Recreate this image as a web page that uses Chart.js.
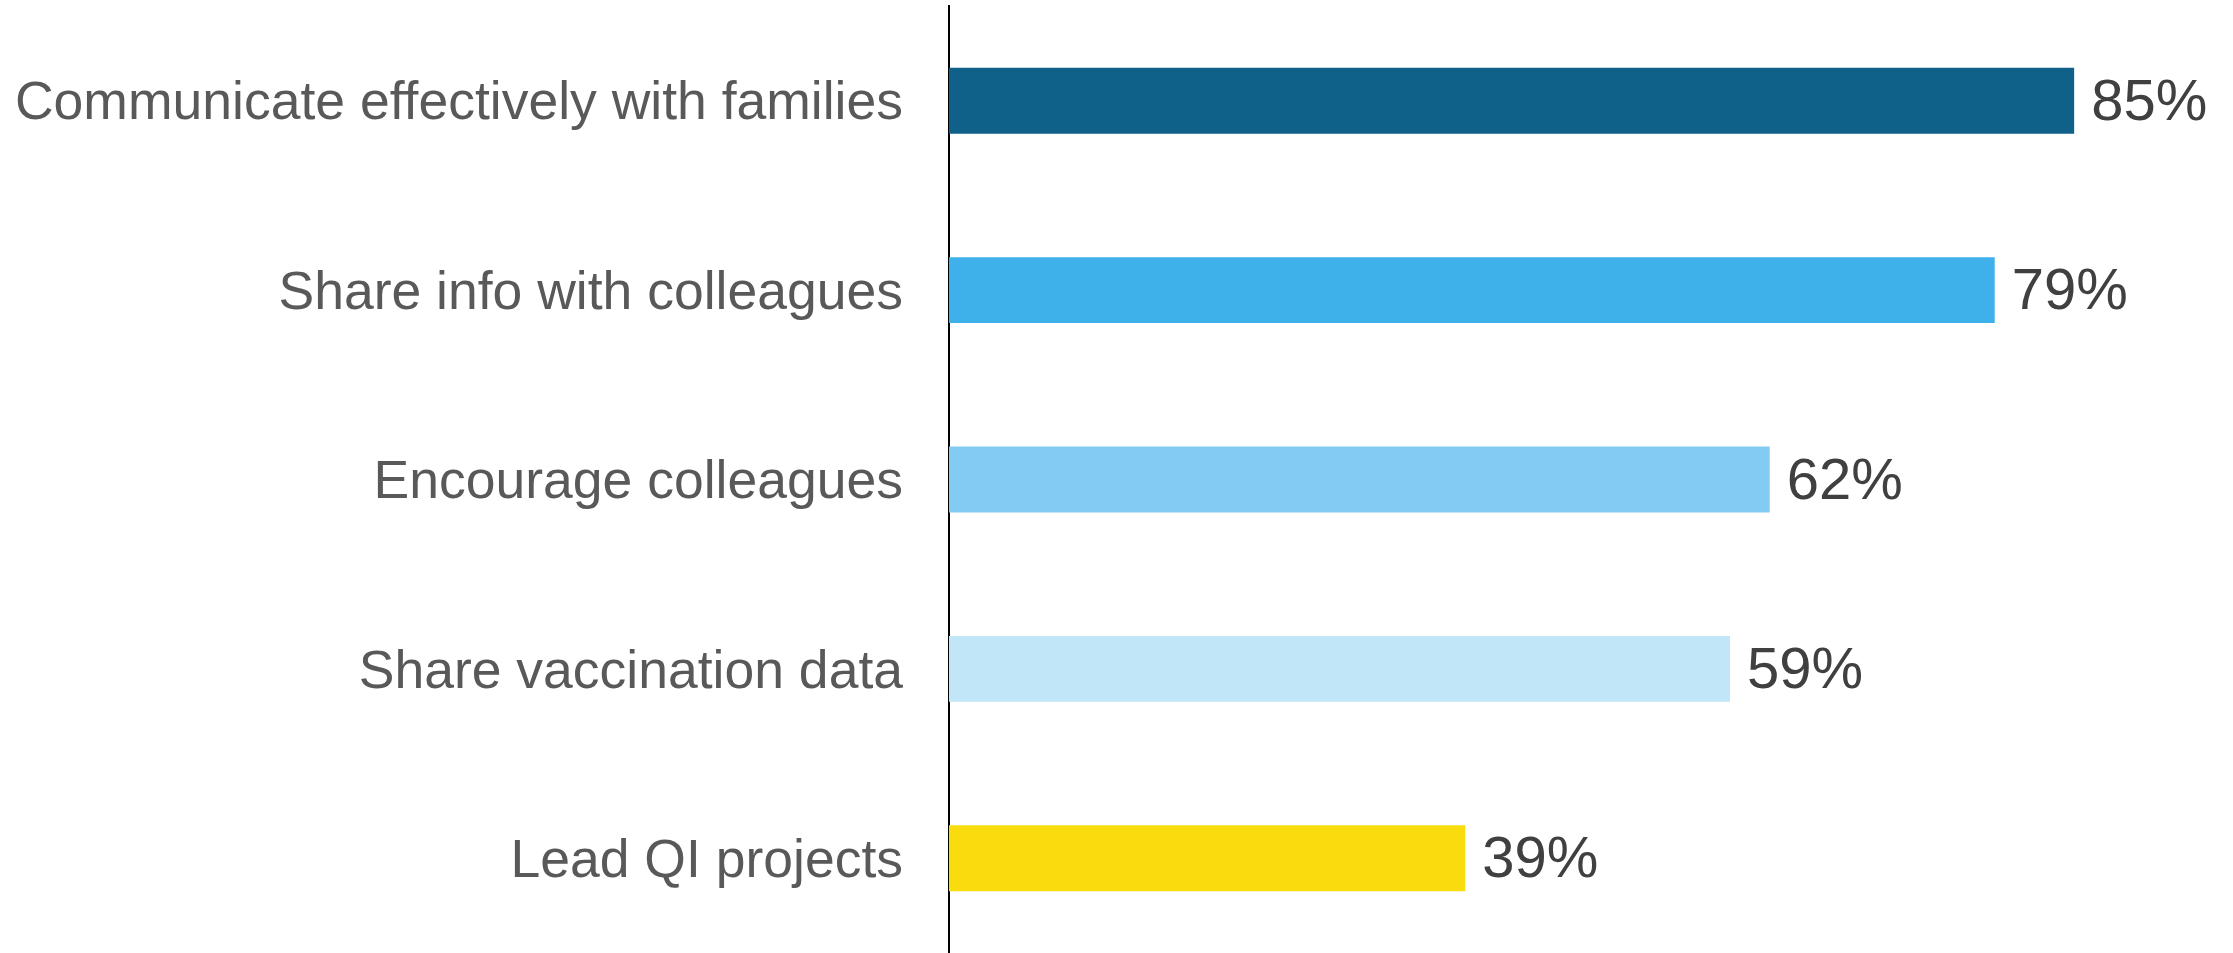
<!DOCTYPE html>
<html>
<head>
<meta charset="utf-8">
<script src="https://cdn.jsdelivr.net/npm/chart.js@4"></script>
<style>
  html, body { margin: 0; padding: 0; background: #fff; }
  #wrap { width: 2233px; height: 953px; position: relative; }
</style>
</head>
<body>
<div id="wrap"><canvas id="myBarChart"></canvas></div>
<script>
const categories = [
  'Communicate effectively with families',
  'Share info with colleagues',
  'Encourage colleagues',
  'Share vaccination data',
  'Lead QI projects'
];
const values = [85, 79, 62, 59, 39];
const barColors = ['#10618A', '#3EB1EA', '#83CBF3', '#C1E6F8', '#F8DC0E'];

// the category labels look like a narrow Arial; use the narrow Liberation face if it is there
function hasFont(name) {
  const c = document.createElement('canvas').getContext('2d');
  const s = 'Communicate effectively';
  c.font = '40px monospace';
  const a = c.measureText(s).width;
  c.font = '40px "' + name + '", monospace';
  return c.measureText(s).width !== a;
}
const narrow = hasFont('Liberation Sans Narrow');
const labelFont = narrow
  ? {family: '"Liberation Sans Narrow"', size: 66}
  : {family: '"Liberation Sans", Arial', size: 53.5};

// percent labels to the right of each bar
const valueLabels = {
  id: 'valueLabels',
  afterDatasetsDraw(chart) {
    const ctx = chart.ctx;
    const meta = chart.getDatasetMeta(0);
    ctx.save();
    ctx.font = '58px "Liberation Sans", Arial';
    ctx.fillStyle = '#404040';
    ctx.textAlign = 'left';
    ctx.textBaseline = 'middle';
    meta.data.forEach((bar, i) => {
      ctx.fillText(values[i] + '%', bar.x + 17, bar.y + 3);
    });
    ctx.restore();
  }
};

const barData = {
  labels: categories,
  datasets: [{
    data: values,
    backgroundColor: barColors,
    borderWidth: 0,
    barPercentage: 0.348,
    categoryPercentage: 1
  }]
};

const barConfig = {
  type: 'bar',
  data: barData,
  options: {
    indexAxis: 'y',
    responsive: true,
    maintainAspectRatio: false,
    animation: false,
    devicePixelRatio: 1,
    layout: { padding: { top: 6, right: 0, bottom: 0, left: 0 } },
    scales: {
      x: {
        display: false,
        min: 0,
        max: 97
      },
      y: {
        grid: { display: false },
        border: { display: true, color: '#000', width: 2 },
        ticks: {
          color: '#595959',
          padding: 38,
          labelOffset: 4,
          font: labelFont
        },
        afterFit(scale) {
          scale.width = 949;
          scale.paddingTop = 0;
          scale.paddingBottom = 0;
        }
      }
    },
    plugins: {
      legend: { display: false },
      tooltip: { enabled: false }
    }
  },
  plugins: [valueLabels]
};

const myBarChart = new Chart(
  document.getElementById('myBarChart'),
  barConfig
);
</script>
</body>
</html>
